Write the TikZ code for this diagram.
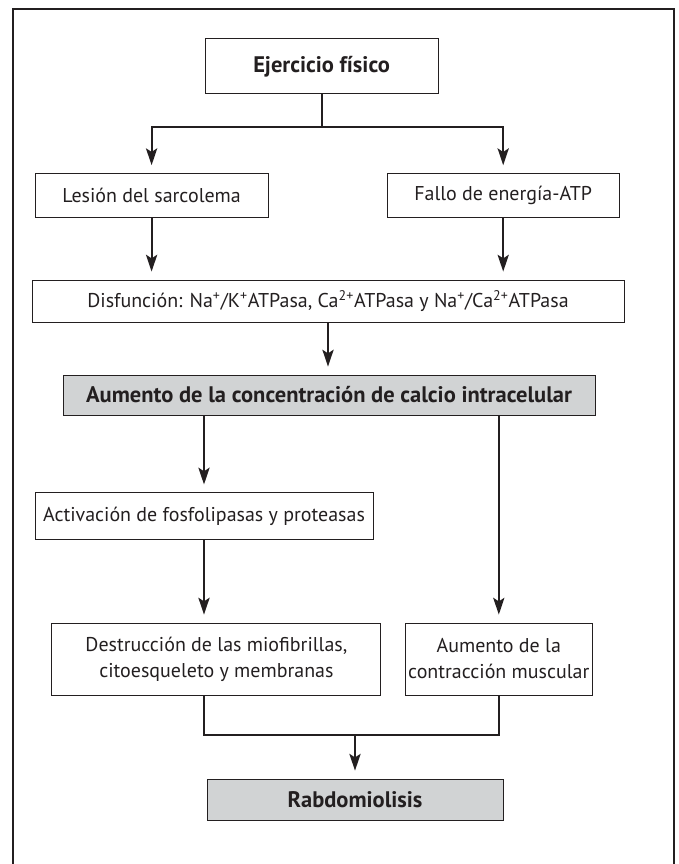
\documentclass[tikz,border=0pt]{standalone}
\usepackage{fontspec}
\setmainfont{PT Sans}
\usepackage{tikz}
\usetikzlibrary{arrows.meta,positioning}
\definecolor{boxgray}{RGB}{209,211,212}
\definecolor{ink}{RGB}{35,31,32}
\newcommand{\boxfont}{\fontsize{14.2}{18.5}\selectfont}
\newcommand{\keyfont}{\fontsize{16}{19}\selectfont\bfseries}

\begin{document}
\begin{tikzpicture}
	[font=\boxfont, inner sep=2pt, color=ink,
	event/.style	= {rectangle, draw=ink, line width=0.6pt, align=center, font=\boxfont},
	result/.style	= {event, fill=boxgray, font=\keyfont},
	paths/.style	= {-{Stealth[length=4.2mm, width=2.8mm, inset=0.9mm]}, line width=1.5pt, shorten >= 0.2cm},
	link/.style	= {line width=1.5pt},
	frame/.style	= {line width=1.5pt}]
	
	\useasboundingbox (0, 0) rectangle (16.95, -21.6);
	\draw [frame] (0.325, -21.6) -- (0.325, -0.225) -- (16.85, -0.225) -- (16.85, -21.6);
	
	\node at (8.04, -1.66)		[event, font=\keyfont, minimum width=5.83cm, minimum height=1.375cm]	(ejer)	{Ejercicio físico};
	
	\node at (3.79, -4.89)		[event, minimum width=5.83cm, minimum height=1.1cm]	(lesion)	{Lesión del sarcolema};
	\node at (12.58, -4.89)		[event, minimum width=5.8cm, minimum height=1.1cm]	(fallo)	{Fallo de energía-ATP};
	
	\node at (8.2, -7.525)		[event, minimum width=14.8cm, minimum height=1.05cm]	(disf)	{Disfunción: Na\textsuperscript{+}/K\textsuperscript{+}ATPasa, Ca\textsuperscript{2+}ATPasa y Na\textsuperscript{+}/Ca\textsuperscript{2+}ATPasa};
	
	\node at (8.225, -9.875)	[result, minimum width=13.3cm, minimum height=1.0cm]	(calcio)	{Aumento de la concentración de calcio intracelular};
	
	\node at (5.1, -12.91)		[event, minimum width=8.45cm, minimum height=1.175cm]	(activ)	{Activación de fosfolipasas y proteasas};
	
	\node at (5.41, -16.475)	[event, minimum width=8.225cm, minimum height=1.8cm]	(destr)	{Destrucción de las miofibrillas,\\ citoesqueleto y membranas};
	\node at (12.47, -16.475)	[event, minimum width=4.6cm, minimum height=1.8cm]	(contr)	{Aumento de la\\ contracción muscular};
	
	\node at (8.875, -19.99)	[result, minimum width=7.4cm, minimum height=1.025cm]	(rabdo)	{Rabdomiolisis};
	
	\draw [link] (ejer.south) -- ++(0, -0.82) coordinate (split);
	\draw [paths] (split) -| (lesion.north);
	\draw [paths] (split) -| (fallo.north);
	
	\draw [paths] (lesion.south) -- (lesion.south |- disf.north);
	\draw [paths] (fallo.south) -- (fallo.south |- disf.north);
	\draw [paths] (disf.south) -- (disf.south |- calcio.north);
	
	\draw [paths] (activ.north |- calcio.south) -- (activ.north);
	\draw [paths] (contr.north |- calcio.south) -- (contr.north);
	\draw [paths] (activ.south) -- (activ.south |- destr.north);
	
	\coordinate (join) at (8.875, -18.375);
	\draw [link] (activ.south |- destr.south) |- (join) -| (contr.south);
	\draw [paths] (join) -- (rabdo.north);
	
\end{tikzpicture}
\end{document}
